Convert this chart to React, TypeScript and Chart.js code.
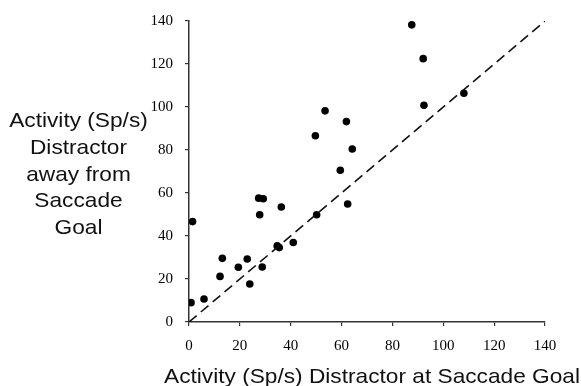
import React, { useEffect, useRef } from "react";
import { Chart, registerables } from "chart.js";

Chart.register(...registerables);

// Activity (Sp/s) with distractor at saccade goal (x) vs away from saccade goal (y)
const atGoal = [1.4, 0.8, 5.9, 12.2, 13.1, 19.4, 22.9, 23.9, 27.4, 29.2, 27.8, 28.8, 34.7, 35.5, 36.3, 41, 50.2, 59.5, 62.4, 53.5, 61.9, 49.7, 64.2, 87.6, 92.1, 92.4, 108.1];
const awayFromGoal = [46.7, 9, 10.7, 21.2, 29.6, 25.5, 29.3, 17.7, 57.6, 57.3, 49.9, 25.6, 35.4, 34.6, 53.5, 37, 49.9, 70.6, 54.9, 98.2, 93.2, 86.6, 80.5, 138.2, 122.5, 100.8, 106.4];
const unityLine = [0, 140];
const axisMin = 0;
const axisMax = 140;
const tickStep = 20;
const xTitle = "Activity (Sp/s) Distractor at Saccade Goal";
const yTitleLines = ["Activity (Sp/s)", "Distractor", "away from", "Saccade", "Goal"];

const sans = '"Liberation Sans", Arial, sans-serif';
const serif = '"Liberation Serif", "Times New Roman", serif';

const titlePlugin = {
  id: "customTitles",
  afterDraw(chart: any) {
    const ctx = chart.ctx as CanvasRenderingContext2D;
    ctx.save();
    ctx.fillStyle = "#111";
    ctx.font = `21px ${sans}`;
    ctx.textAlign = "center";
    ctx.textBaseline = "alphabetic";
    yTitleLines.forEach((line, i) => {
      ctx.save();
      ctx.translate(78.5, 127 + i * 26.8);
      ctx.scale(1.08, 1);
      ctx.fillText(line, 0, 0);
      ctx.restore();
    });
    ctx.save();
    ctx.translate(372, 383);
    ctx.scale(1.08, 1);
    ctx.fillText(xTitle, 0, 0);
    ctx.restore();
    ctx.restore();
  },
};

export default function App() {
  const ref = useRef<HTMLCanvasElement | null>(null);

  useEffect(() => {
    document.body.style.margin = "0";
    const canvas = ref.current;
    if (!canvas) return;
    const points = atGoal.map((x, i) => ({ x, y: awayFromGoal[i] }));
    const axisCommon = (afterFit: (s: any) => void, pad: number) => ({
      type: "linear" as const,
      min: axisMin,
      max: axisMax,
      ticks: {
        stepSize: tickStep,
        color: "#000",
        font: { family: serif, size: 15 },
        maxRotation: 0,
        padding: pad,
      },
      grid: {
        drawOnChartArea: false,
        drawTicks: true,
        tickLength: 4,
        color: "#333",
        lineWidth: 1.2,
      },
      border: { display: true, color: "#333", width: 1.5 },
      afterFit,
    });
    const chart = new Chart(canvas, {
      type: "scatter",
      data: {
        datasets: [
          {
            type: "line",
            data: unityLine.map((v) => ({ x: v, y: v })),
            borderColor: "#111",
            borderWidth: 1.6,
            borderDash: [10, 5.5],
            pointRadius: 0,
            fill: false,
          } as any,
          {
            data: points,
            pointRadius: 3.8,
            pointBackgroundColor: "#000",
            pointBorderWidth: 0,
            backgroundColor: "#000",
            borderColor: "#000",
          },
        ],
      },
      options: {
        animation: false,
        responsive: false,
        maintainAspectRatio: false,
        layout: { padding: { top: 16, right: 36, left: 0, bottom: 0 } },
        plugins: { legend: { display: false }, tooltip: { enabled: false } },
        scales: {
          x: axisCommon((s: any) => {
            s.height = 64;
          }, 11),
          y: axisCommon((s: any) => {
            s.width = 189;
          }, 12),
        },
      } as any,
      plugins: [titlePlugin],
    });
    return () => chart.destroy();
  }, []);

  return (
    <div style={{ width: 581, height: 386, background: "#fff" }}>
      <canvas ref={ref} width={581} height={386} style={{ width: 581, height: 386, display: "block" }} />
    </div>
  );
}
